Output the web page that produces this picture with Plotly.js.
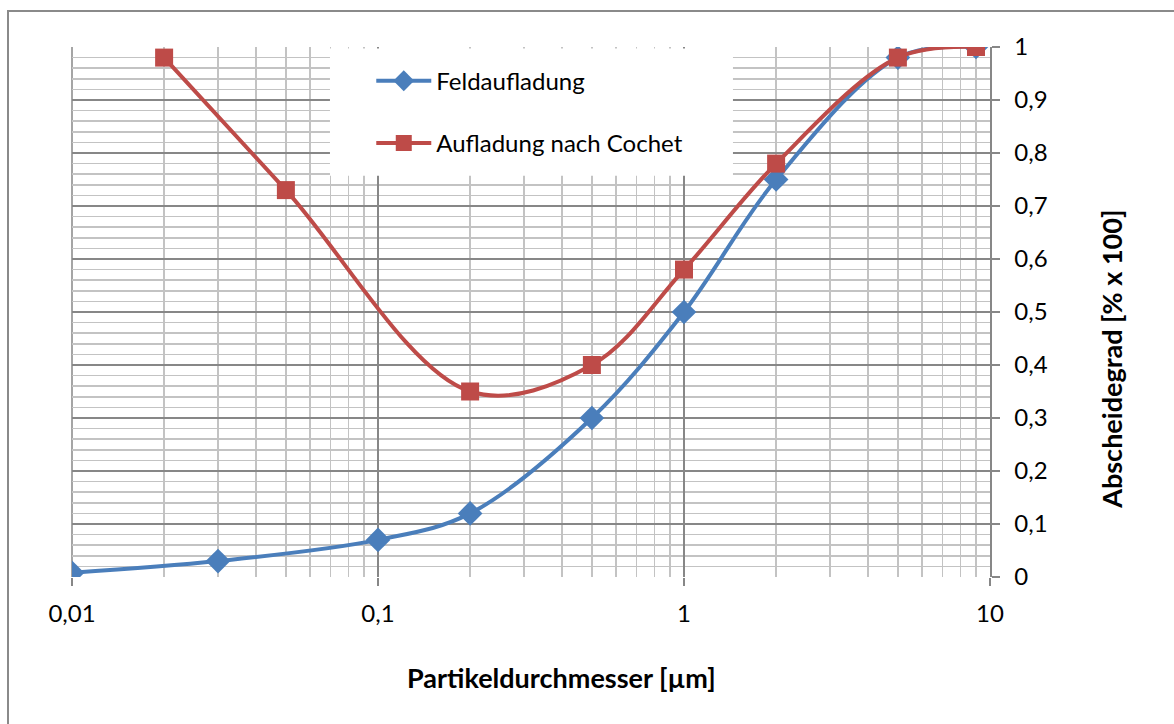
<!DOCTYPE html>
<html>
<head>
<meta charset="utf-8">
<script src="https://cdn.plot.ly/plotly-3.0.1.min.js"></script>
<style>
html,body{margin:0;padding:0;background:#fff;overflow:hidden;}
#chart{position:absolute;left:0;top:0;width:1174px;height:724px;}
#frame{position:absolute;left:7px;top:10px;width:1200px;height:760px;border:2px solid #8a8a8a;pointer-events:none;box-sizing:border-box;}
</style>
</head>
<body>
<div id="chart"></div>
<div id="frame"></div>
<script>
// Data
const feldX = [0.01, 0.03, 0.1, 0.2, 0.5, 1, 2, 5, 9];
const feldY = [0.008, 0.03, 0.07, 0.12, 0.30, 0.50, 0.75, 0.98, 1.0];
const cochetX = [0.02, 0.05, 0.2, 0.5, 1, 2, 5, 9];
const cochetY = [0.98, 0.73, 0.35, 0.40, 0.58, 0.78, 0.98, 1.0];
const seriesNames = ["Feldaufladung", "Aufladung nach Cochet"];
const xTickVals = [0.01, 0.1, 1, 10];
const xTickText = ["0,01", "0,1", "1", "10"];
const xTitle = "Partikeldurchmesser [µm]";
const yTitle = "Abscheidegrad [% x 100]";

const FONT = "Lato, 'Open Sans', sans-serif";
const majorGrid = "#878787";
const minorGrid = "#c3c3c3";

const traces = [
  {
    x: feldX, y: feldY, name: seriesNames[0], type: "scatter", mode: "lines+markers",
    line: {color: "#4a7ebb", width: 4, shape: "spline", smoothing: 1},
    marker: {symbol: "diamond", size: 19, color: "#4a7ebb"},
    legendgroup: "a"
  },
  {
    x: cochetX, y: cochetY, name: seriesNames[1], type: "scatter", mode: "lines+markers",
    line: {color: "#be4b48", width: 4, shape: "spline", smoothing: 1},
    marker: {symbol: "square", size: 18, color: "#be4b48"},
    legendgroup: "b"
  }
];

const layout = {
  width: 1174, height: 724,
  margin: {l: 72, r: 184, t: 47, b: 147, pad: 0},
  paper_bgcolor: "#fff", plot_bgcolor: "#fff",
  separators: ",.",
  font: {family: FONT, size: 24, color: "#000"},
  showlegend: true,
  legend: {
    x: 0.326, y: 0.978, xanchor: "left", yanchor: "top",
    bgcolor: "rgba(0,0,0,0)", borderwidth: 0,
    font: {family: FONT, size: 24, color: "#000"},
    traceorder: "grouped", tracegroupgap: 28, itemwidth: 55
  },
  xaxis: {
    type: "log", range: [-2, 1],
    tickmode: "array", tickvals: xTickVals, ticktext: xTickText,
    ticks: "outside", ticklen: 8, tickwidth: 1.5, tickcolor: majorGrid,
    showgrid: true, gridcolor: majorGrid, gridwidth: 1.5,
    minor: {dtick: "D1", showgrid: true, gridcolor: minorGrid, gridwidth: 1.5, ticks: ""},
    showline: false, zeroline: false,
    ticklabelstandoff: 7,
    tickfont: {family: FONT, size: 24, color: "#000"}
  },
  yaxis: {
    side: "right", range: [0, 1], dtick: 0.1, tick0: 0,
    ticks: "outside", ticklen: 8, tickwidth: 1.5, tickcolor: majorGrid,
    showgrid: true, gridcolor: majorGrid, gridwidth: 1.5,
    minor: {dtick: 0.02, showgrid: true, gridcolor: minorGrid, gridwidth: 1.5, ticks: ""},
    showline: true, linecolor: majorGrid, linewidth: 1.5,
    zeroline: false,
    ticklabelstandoff: 10,
    tickfont: {family: FONT, size: 24, color: "#000"}
  },
  shapes: [
    {type: "rect", xref: "paper", yref: "paper", x0: 0.281, x1: 0.720, y0: 0.757, y1: 0.997,
     fillcolor: "#fff", line: {width: 0}, layer: "above"},
    {type: "line", xref: "paper", yref: "paper", x0: 0, x1: 0, y0: 0, y1: 1,
     line: {color: majorGrid, width: 1.5}, layer: "below"}
  ],
  annotations: [
    {text: "<b>" + xTitle + "</b>", xref: "paper", yref: "paper", x: 0.533, y: -0.189,
     xanchor: "center", yanchor: "middle", showarrow: false,
     font: {family: FONT, size: 27, color: "#000"}},
    {text: "<b>" + yTitle + "</b>", xref: "paper", yref: "paper", x: 1.133, y: 0.41,
     xanchor: "center", yanchor: "middle", showarrow: false, textangle: -90,
     font: {family: FONT, size: 27, color: "#000"}}
  ]
};

Plotly.newPlot("chart", traces, layout, {staticPlot: true, displayModeBar: false});
</script>
</body>
</html>
